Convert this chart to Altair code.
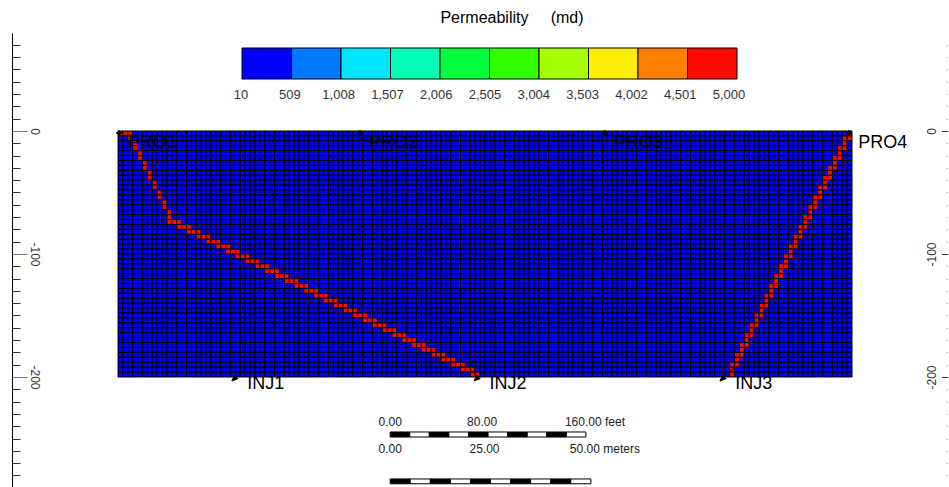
import altair as alt
import pandas as pd

alt.data_transformers.disable_max_rows()

FONT = "Liberation Sans"

# ---------------- reservoir grid (feet) ----------------
NX, NZ = 150, 50          # columns, layers
CELL_FT = 4.0             # cell edge length
BASE_PERM = 10            # matrix permeability, md
FRACTURE_PERM = 5000      # fracture permeability, md

# Fracture 1 (PRO1 -> INJ2): first / last fractured column in each layer
FRAC1_FIRST = [0, 2, 3, 3, 4, 4, 5, 5, 6, 6, 7, 7, 8, 8, 9, 9, 10, 10,
               10, 12, 14, 16, 18, 20, 22, 24, 26, 28, 30, 32, 34, 36, 38, 40,
               42, 44, 46, 48, 50, 52, 54, 56, 58, 60, 62, 64, 66, 68, 70, 72]
FRAC1_LAST = [2, 2, 3, 3, 4, 4, 5, 5, 6, 6, 7, 7, 8, 8, 9, 9, 10, 10,
              12, 14, 16, 18, 20, 22, 24, 26, 28, 30, 32, 34, 36, 38, 40, 42,
              44, 46, 48, 50, 52, 54, 56, 58, 60, 62, 64, 66, 68, 70, 72, 73]

# Fracture 2 (PRO4 -> INJ3): first / last fractured column in each layer
FRAC2_FIRST = [149, 148, 148, 147, 147, 146, 146, 145, 145, 144, 144, 143, 143,
               142, 142, 141, 141, 140, 140, 139, 139, 138, 138, 137, 137, 136,
               136, 135, 135, 134, 134, 133, 133, 132, 132, 131, 131, 130, 130,
               129, 129, 128, 128, 127, 127, 126, 126, 125, 125, 125]
FRAC2_LAST = [149, 149, 148, 148, 147, 147, 146, 146, 145, 145, 144, 144, 143,
              143, 142, 142, 141, 141, 140, 140, 139, 139, 138, 138, 137, 137,
              136, 136, 135, 135, 134, 134, 133, 133, 132, 132, 131, 131, 130,
              130, 129, 129, 128, 128, 127, 127, 126, 126, 125, 125]

# ---------------- permeability colour bar ----------------
PERM_MIN, PERM_MAX = 10, 5000
PERM_COLORS = ["#0000FF", "#0078FF", "#00E6FF", "#00FFB4", "#00FF3C",
               "#32FF00", "#A5FF00", "#FFEE00", "#FF8000", "#FF0A00"]
LEGEND_TICKS = [10, 509, 1008, 1507, 2006, 2505, 3004, 3503, 4002, 4501, 5000]
LEGEND_TITLE = "Permeability\u00a0\u00a0\u00a0\u00a0\u00a0(md)"

# ---------------- wells ----------------
PRO_NAMES = ["PRO1", "PRO2", "PRO3", "PRO4"]
PRO_X = [0, 197, 397, 597]
PRO_Z = [0, 0, 0, 0]
INJ_NAMES = ["INJ1", "INJ2", "INJ3"]
INJ_X = [95, 293, 494]
INJ_Z = [-200, -200, -200]

# ---------------- depth axes ----------------
DEPTH_TICKS = list(range(-280, 81, 10))

# ---------------- scale bar ----------------
FT_PER_M = 3.28084
FEET_SEG, FEET_NSEG = 16, 10
METER_SEG, METER_NSEG = 5, 10
FEET_LABELS = [0, 80, 160]
METER_LABELS = [0, 25, 50]
SB_X = 222.5                    # scale-bar origin along x (ft)
SB_FEET_Y = (-244.7, -248.8)    # bar top / bottom (ft)
SB_METER_Y = (-282.9, -286.8)
SB_FEET_LABEL_Y = -236.6
SB_METER_LABEL_Y = -258.9

# ---------------- tables ----------------
cells = []
for k in range(NZ):
    for i in range(NX):
        frac = (FRAC1_FIRST[k] <= i <= FRAC1_LAST[k]) or (FRAC2_FIRST[k] <= i <= FRAC2_LAST[k])
        cells.append((i, k, FRACTURE_PERM if frac else BASE_PERM))
grid = pd.DataFrame(cells, columns=["i", "k", "perm"])

pro = pd.DataFrame({"name": PRO_NAMES, "x": PRO_X, "z": PRO_Z})
inj = pd.DataFrame({"name": INJ_NAMES, "x": INJ_X, "z": INJ_Z})
ticks = pd.DataFrame({"v": LEGEND_TICKS})

segs = []
for n in range(FEET_NSEG):
    segs.append((SB_X + n * FEET_SEG, SB_X + (n + 1) * FEET_SEG,
                 SB_FEET_Y[0], SB_FEET_Y[1], "black" if n % 2 == 0 else "white"))
for n in range(METER_NSEG):
    segs.append((SB_X + n * METER_SEG * FT_PER_M, SB_X + (n + 1) * METER_SEG * FT_PER_M,
                 SB_METER_Y[0], SB_METER_Y[1], "black" if n % 2 == 0 else "white"))
bar = pd.DataFrame(segs, columns=["x0", "x1", "z0", "z1", "fill"])

sb_start = pd.DataFrame({
    "x": [SB_X + FEET_LABELS[0], SB_X + METER_LABELS[0] * FT_PER_M],
    "z": [SB_FEET_LABEL_Y, SB_METER_LABEL_Y],
    "text": [f"{FEET_LABELS[0]:.2f}", f"{METER_LABELS[0]:.2f}"],
})
sb_mid = pd.DataFrame({
    "x": [SB_X + FEET_LABELS[1], SB_X + METER_LABELS[1] * FT_PER_M],
    "z": [SB_FEET_LABEL_Y, SB_METER_LABEL_Y],
    "text": [f"{FEET_LABELS[1]:.2f}", f"{METER_LABELS[1]:.2f}"],
})
sb_end = pd.DataFrame({
    "x": [SB_X + FEET_LABELS[2], SB_X + METER_LABELS[2] * FT_PER_M],
    "z": [SB_FEET_LABEL_Y, SB_METER_LABEL_Y],
    "text": [f"{FEET_LABELS[2]:.2f} feet", f"{METER_LABELS[2]:.2f} meters"],
})

# ---------------- scales & axes ----------------
X_SCALE = alt.Scale(domain=[0, NX * CELL_FT], nice=False, zero=False)
Y_SCALE = alt.Scale(domain=[-289.43, 79.67], nice=False, zero=False)
# colour-bar label positions (pixels from the plot's left edge)
BAR_LABEL_SCALE = alt.Scale(domain=[PERM_MIN, PERM_MAX], range=[123, 611], nice=False, zero=False)
MAJOR = "datum.value % 100 === 0"

left_axis = alt.Axis(
    orient="right", offset=-840, values=DEPTH_TICKS, grid=False, title=None,
    domain=True, domainColor="black", domainWidth=1,
    tickSize=15, tickWidth=1,
    tickColor={"condition": {"test": MAJOR, "value": "#777777"}, "value": "#333333"},
    tickDash={"condition": {"test": MAJOR, "value": [20, 0]}, "value": [8, 20]},
    labelExpr=f"{MAJOR} ? '' + datum.value : ''",
    labelAngle=90, labelAlign="center", labelBaseline="middle", labelPadding=7,
    labelFont=FONT, labelFontSize=12, labelColor="#333333", labelOverlap=False,
)
right_axis = alt.Axis(
    orient="left", offset=-829.5, values=DEPTH_TICKS, grid=False, title=None,
    domain=False, tickSize=6, tickWidth=1,
    tickColor={"condition": {"test": MAJOR, "value": "#333333"}, "value": "#d0d0d0"},
    tickDash={"condition": {"test": MAJOR, "value": [20, 0]}, "value": [2, 20]},
    labelExpr=f"{MAJOR} ? '' + datum.value : ''",
    labelAngle=270, labelAlign="center", labelBaseline="middle", labelPadding=10,
    labelFont=FONT, labelFontSize=12, labelColor="#333333", labelOverlap=False,
)

# colour blocks come from the legend; its numbers are drawn by bar_labels
perm_legend = alt.Legend(
    title=None, type="gradient", direction="horizontal",
    orient="none", legendX=124, legendY=15, padding=0,
    gradientLength=495, gradientThickness=31,
    gradientStrokeColor="black", gradientStrokeWidth=1,
    labelExpr="''", labelOverlap=False,
)

# well symbols: producers get a small cross, injectors an arrow pointing down-left
INJ_ARROW = "M 1.66 -1.29 L 0.29 -0.01 M -0.34 0.57 L 0.53 0.24 L 0.04 -0.27 Z"

# ---------------- layers ----------------
heat = alt.Chart(grid).transform_calculate(
    x0=f"datum.i * {CELL_FT}", x1=f"(datum.i + 1) * {CELL_FT}",
    z0=f"-datum.k * {CELL_FT}", z1=f"-(datum.k + 1) * {CELL_FT}",
).mark_rect(stroke="black", strokeWidth=1).encode(
    x=alt.X("x0:Q", scale=X_SCALE, axis=None),
    x2="x1:Q",
    y=alt.Y("z0:Q", scale=Y_SCALE, axis=left_axis),
    y2="z1:Q",
    color=alt.Color("perm:Q", legend=perm_legend,
                    scale=alt.Scale(type="quantize", domain=[PERM_MIN, PERM_MAX],
                                    range=PERM_COLORS, nice=False, zero=False)),
)

bar_labels = alt.Chart(ticks).mark_text(
    align="center", baseline="middle", font=FONT, fontSize=13, color="#333333"
).encode(
    x=alt.X("v:Q", scale=BAR_LABEL_SCALE, axis=None),
    y=alt.value(62),
    text=alt.Text("v:Q", format=",d"),
)

pro_marks = alt.Chart(pro).mark_point(
    shape="cross", filled=True, color="black", size=30, opacity=1, yOffset=2, xOffset=1
).encode(
    x=alt.X("x:Q", scale=X_SCALE, axis=None),
    y=alt.Y("z:Q", scale=Y_SCALE, axis=right_axis),
)
inj_marks = alt.Chart(inj).mark_point(
    shape=INJ_ARROW, filled=True, fill="black", stroke="black", strokeWidth=1,
    size=196, opacity=1
).encode(
    x=alt.X("x:Q", scale=X_SCALE, axis=None),
    y=alt.Y("z:Q", scale=Y_SCALE, axis=None),
)
pro_text = alt.Chart(pro).mark_text(
    align="left", baseline="alphabetic", dx=10, dy=17, font=FONT, fontSize=18, color="black"
).encode(
    x=alt.X("x:Q", scale=X_SCALE, axis=None),
    y=alt.Y("z:Q", scale=Y_SCALE, axis=None),
    text="name:N",
)
inj_text = alt.Chart(inj).mark_text(
    align="left", baseline="alphabetic", dx=13, dy=12, font=FONT, fontSize=18, color="black"
).encode(
    x=alt.X("x:Q", scale=X_SCALE, axis=None),
    y=alt.Y("z:Q", scale=Y_SCALE, axis=None),
    text="name:N",
)

bar_marks = alt.Chart(bar).mark_rect(stroke="black", strokeWidth=1).encode(
    x=alt.X("x0:Q", scale=X_SCALE, axis=None),
    x2="x1:Q",
    y=alt.Y("z0:Q", scale=Y_SCALE, axis=None),
    y2="z1:Q",
    fill=alt.Fill("fill:N", scale=None),
)


def sb_text(df, align, dx):
    return alt.Chart(df).mark_text(
        align=align, baseline="middle", dx=dx, font=FONT, fontSize=12, color="#222222"
    ).encode(
        x=alt.X("x:Q", scale=X_SCALE, axis=None),
        y=alt.Y("z:Q", scale=Y_SCALE, axis=None),
        text="text:N",
    )


chart = alt.layer(
    heat, pro_marks, inj_marks, pro_text, inj_text, bar_marks,
    sb_text(sb_start, "center", 0), sb_text(sb_mid, "center", -6), sb_text(sb_end, "left", -21),
    bar_labels,
).resolve_scale(
    y="shared", x="independent"
).resolve_axis(
    y="independent"
).properties(
    width=734, height=454,
    padding={"left": 118, "top": 33, "right": 97, "bottom": 0},
    autosize=alt.AutoSizeParams(type="none"),
    background="white",
    title=alt.TitleParams(
        LEGEND_TITLE, anchor="middle", frame="group", dx=27, offset=7,
        font=FONT, fontSize=16, fontWeight="normal", color="black",
    ),
).configure_view(stroke=None)

chart.save("out.html", embed_options={"renderer": "svg", "actions": False})
